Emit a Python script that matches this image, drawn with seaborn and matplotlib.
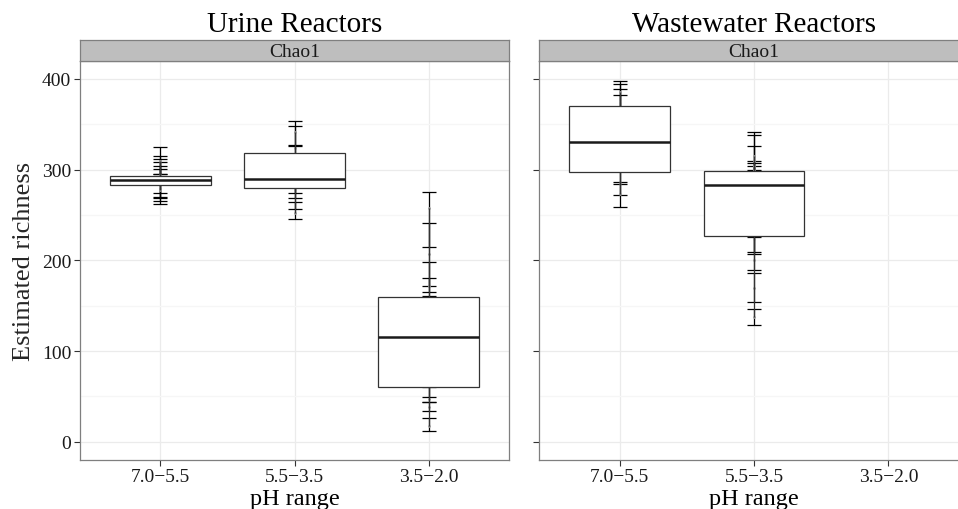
import seaborn as sns
import matplotlib.pyplot as plt
import pandas as pd
import numpy as np

# pH categories (x axis)
ph_ranges = ["7.0−5.5", "5.5−3.5", "3.5−2.0"]
reactors = ["Urine Reactors", "Wastewater Reactors"]

# Chao1 estimates with lower / upper confidence limits, per reactor and pH range
urine_70_est = [278, 281, 283, 287, 289, 293, 294, 309]
urine_70_lo = [262, 265, 269, 270, 274, 284, 285, 295]
urine_70_hi = [290, 295, 301, 304, 308, 312, 315, 325]

urine_55_est = [252, 277, 280, 286, 294, 316, 324, 341]
urine_55_lo = [246, 257, 269, 274, 283, 300, 305, 327]
urine_55_hi = [264, 296, 291, 298, 310, 326, 348, 354]

urine_35_est = [18, 38, 47, 65, 80, 105, 127, 145, 155, 172, 207, 258]
urine_35_lo = [12, 34, 44, 49, 65, 90, 100, 130, 140, 165, 172, 215]
urine_35_hi = [26, 44, 60, 85, 100, 130, 150, 161, 181, 198, 241, 275]

waste_70_est = [273, 285, 301, 320, 340, 368, 376, 386]
waste_70_lo = [259, 272, 284, 300, 320, 352, 360, 369]
waste_70_hi = [286, 300, 320, 350, 382, 394, 389, 398]

waste_55_est = [138, 170, 200, 223, 239, 262, 278, 288, 292, 296, 300, 304, 310, 315]
waste_55_lo = [129, 154, 189, 207, 209, 240, 250, 260, 265, 270, 280, 285, 295, 300]
waste_55_hi = [146, 186, 226, 245, 270, 285, 296, 298, 304, 307, 310, 326, 338, 341]

groups = [
    ("Urine Reactors", ph_ranges[0], urine_70_est, urine_70_lo, urine_70_hi),
    ("Urine Reactors", ph_ranges[1], urine_55_est, urine_55_lo, urine_55_hi),
    ("Urine Reactors", ph_ranges[2], urine_35_est, urine_35_lo, urine_35_hi),
    ("Wastewater Reactors", ph_ranges[0], waste_70_est, waste_70_lo, waste_70_hi),
    ("Wastewater Reactors", ph_ranges[1], waste_55_est, waste_55_lo, waste_55_hi),
]
rows = []
for reactor, ph, est, lo, hi in groups:
    for e, l, h in zip(est, lo, hi):
        rows.append({"reactor": reactor, "ph": ph, "est": e, "lo": l, "hi": h})
df = pd.DataFrame(rows)

sns.set_theme(style="white")
plt.rcParams["font.family"] = ["Liberation Serif", "DejaVu Serif"]

W, H = 958, 510
fig = plt.figure(figsize=(W / 100, H / 100), dpi=100)

panel_left = [79.5, 539]
panel_w = 430
panel_top, panel_bot = 61.7, 461
strip_top = 41.3

for i, reactor in enumerate(reactors):
    x0 = panel_left[i]
    ax = fig.add_axes([x0 / W, (H - panel_bot) / H, panel_w / W, (panel_bot - panel_top) / H])
    sub = df[df["reactor"] == reactor]
    codes = sub["ph"].map({p: k for k, p in enumerate(ph_ranges)})

    ax.errorbar(codes, sub["est"], yerr=[sub["est"] - sub["lo"], sub["hi"] - sub["est"]],
                fmt="none", ecolor="black", elinewidth=0.9, capsize=5, capthick=0.9, zorder=1.5)
    sns.stripplot(data=sub, x="ph", y="est", order=ph_ranges, ax=ax, color="#9a9a9a",
                  size=2, jitter=False, zorder=1.6)
    sns.boxplot(data=sub, x="ph", y="est", order=ph_ranges, ax=ax, width=0.75,
                color="white", linecolor="#333333", linewidth=0.9, showfliers=False,
                showcaps=False, medianprops={"linewidth": 1.8, "color": "#1a1a1a"}, whis=1.5)

    ax.set_xlim(-0.6, 2.6)
    ax.set_ylim(-20, 420)
    ax.set_yticks([0, 100, 200, 300, 400])
    ax.set_yticks([50, 150, 250, 350], minor=True)
    ax.set_axisbelow(True)
    ax.grid(True, which="major", color="#EBEBEB", linewidth=0.9)
    ax.grid(True, which="minor", axis="y", color="#F6F6F6", linewidth=0.9)
    ax.tick_params(which="major", length=4, width=0.8, color="#333333", pad=2,
                   labelsize=14, labelcolor="#1a1a1a", bottom=True, left=True)
    ax.tick_params(which="minor", length=0)
    for s in ax.spines.values():
        s.set_color("#7F7F7F")
        s.set_linewidth(0.9)
    ax.set_ylabel("")
    ax.set_xlabel("")
    if i == 1:
        ax.set_yticklabels([])

    # facet strip
    sax = fig.add_axes([x0 / W, (H - panel_top) / H, panel_w / W, (panel_top - strip_top) / H])
    sax.set_facecolor("#BEBEBE")
    sax.set_xticks([])
    sax.set_yticks([])
    for s in sax.spines.values():
        s.set_color("#7F7F7F")
        s.set_linewidth(0.9)
    sax.text(0.5, 0.45, "Chao1", ha="center", va="center", fontsize=14,
             color="#1a1a1a", transform=sax.transAxes)

    cx = (x0 + panel_w / 2) / W
    fig.text(cx, 1 - 32 / H, reactor, ha="center", va="baseline", fontsize=21, color="black")
    fig.text(cx, 1 - 505 / H, "pH range", ha="center", va="baseline", fontsize=17.5, color="black")

fig.text(24 / W, 1 - 261 / H, "Estimated richness", rotation=90, ha="center",
         va="center", fontsize=19)

fig.savefig("out.png", dpi=100)
